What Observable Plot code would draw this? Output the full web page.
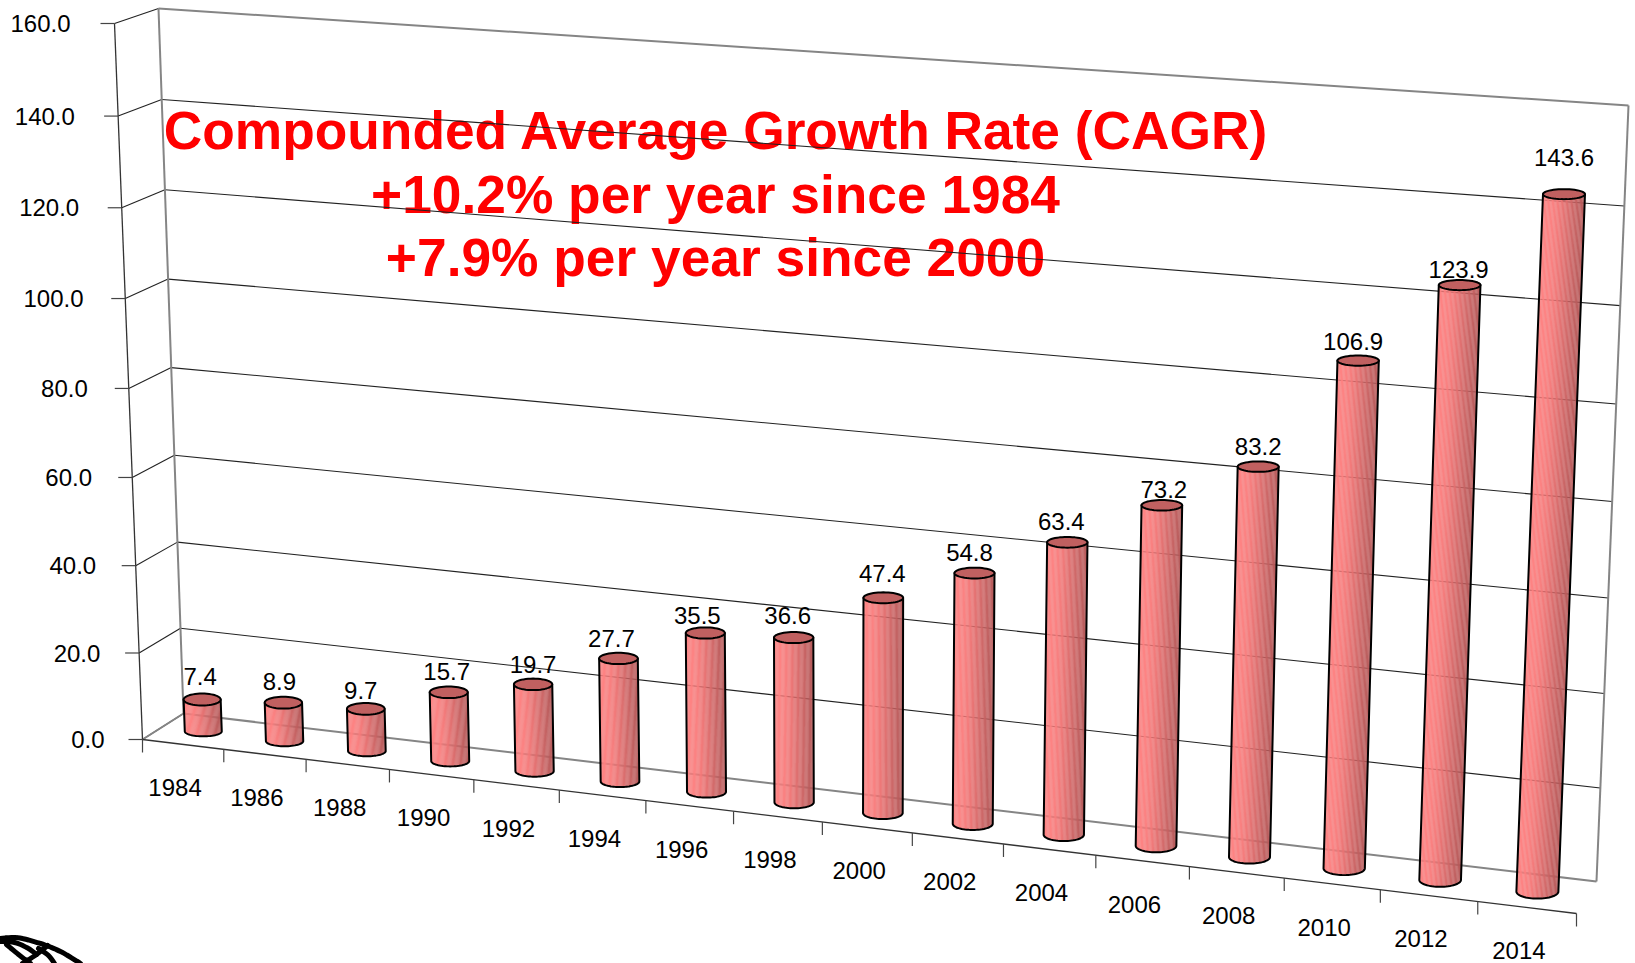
<!DOCTYPE html>
<html>
<head>
<meta charset="utf-8">
<style>html,body{margin:0;padding:0;background:#fff}svg{display:block}</style>
<script src="https://cdn.jsdelivr.net/npm/d3@7"></script>
<script src="https://cdn.jsdelivr.net/npm/@observablehq/plot@0.6"></script>
</head>
<body>
<div id="chart"></div>
<script>
// ---- data ----
const years = [1984,1986,1988,1990,1992,1994,1996,1998,2000,2002,2004,2006,2008,2010,2012,2014];
const values = [7.4,8.9,9.7,15.7,19.7,27.7,35.5,36.6,47.4,54.8,63.4,73.2,83.2,106.9,123.9,143.6];
const valueLabels = ["7.4","8.9","9.7","15.7","19.7","27.7","35.5","36.6","47.4","54.8","63.4","73.2","83.2","106.9","123.9","143.6"];
const yTicks = [0,20,40,60,80,100,120,140,160];
const titleLines = ["Compounded Average Growth Rate (CAGR)","+10.2% per year since 1984","+7.9% per year since 2000"];

// ---- layout: perspective box of the 3-D chart ----
const YMAX = 160, n = years.length;
function homography(tl, tr, br, bl) {
  const [x0,y0]=tl,[x1,y1]=tr,[x2,y2]=br,[x3,y3]=bl;
  const dx1=x1-x2,dx2=x3-x2,dx3=x0-x1+x2-x3,dy1=y1-y2,dy2=y3-y2,dy3=y0-y1+y2-y3;
  const den=dx1*dy2-dx2*dy1;
  const g=(dx3*dy2-dx2*dy3)/den,h=(dx1*dy3-dx3*dy1)/den;
  const a=x1-x0+g*x1,b=x3-x0+h*x3,c=x0,d=y1-y0+g*y1,e=y3-y0+h*y3,f=y0;
  return (u,v)=>{const q=g*u+h*v+1;return [(a*u+b*v+c)/q,(d*u+e*v+f)/q];};
}
const backWall = homography([158,8],[1628,105],[1596,881],[183,713]);
const frontWall = homography([114,23],[1608,123],[1576,913],[142,739]);
// u: 0..1 along the categories, v: value, w: 0 front .. 1 back
function P(u,v,w){
  const f=frontWall(u,1-v/YMAX), b=backWall(u,1-v/YMAX);
  return [f[0]+(b[0]-f[0])*w, f[1]+(b[1]-f[1])*w];
}
const labelDx=[-2,-4,-5,-2,0,-7,-8,-6,-1,-5,-6,2,0,-5,-1,0];
const labelDy=[-22,-20,-18,-20,-19,-19,-17,-21,-23,-20,-20,-15,-19,-18,-15,-36];
const MID=0.5, STRIPS=33;

// ---- tables derived from the data ----
const bars = years.map((year,i)=>{
  const u=(i+0.5)/n, t=i/(n-1);
  return {i,year,value:values[i],label:valueLabels[i],u,
    base:P(u,0,MID),top:P(u,values[i],MID),
    rx:18.5+2.5*t, ryTop:6-1*t, ryBase:5+2*t};
});
const stripeColor=s=>{ // s 0..1 left to right
  const c=d3.interpolateRgbBasis(["#ff8080","#ff8080","#e87070","#c96262","#b05555"])(s);
  return d3.color(c).formatHex();
};
const strips=[],bodies=[];
bars.forEach(b=>{
  const sy=s=>Math.sqrt(Math.max(0,1-(2*s-1)*(2*s-1)));
  const px=(o,s)=>o[0]+(2*s-1)*b.rx;
  for(let k=0;k<STRIPS;k++){
    const a=k/STRIPS,c=(k+1)/STRIPS,id=b.i*1000+k,fill=stripeColor((a+c)/2);
    strips.push(
      {id,fill,X:px(b.top,a),Y:b.top[1]+b.ryTop*sy(a)},
      {id,fill,X:px(b.top,c),Y:b.top[1]+b.ryTop*sy(c)},
      {id,fill,X:px(b.base,c),Y:b.base[1]+b.ryBase*sy(c)},
      {id,fill,X:px(b.base,a),Y:b.base[1]+b.ryBase*sy(a)}
    );
  }
});
const outlines=[],tops=[];
bars.forEach(b=>{
  outlines.push({id:b.i,X:b.top[0]-b.rx,Y:b.top[1]});
  for(let k=0;k<=32;k++){const th=Math.PI-Math.PI*k/32;
    outlines.push({id:b.i,X:b.base[0]+b.rx*Math.cos(th),Y:b.base[1]+b.ryBase*Math.sin(th)});}
  outlines.push({id:b.i,X:b.top[0]+b.rx,Y:b.top[1]});
  bodies.push({id:b.i,X:b.top[0]-b.rx,Y:b.top[1]});
  bodies.push({id:b.i,X:b.top[0]+b.rx,Y:b.top[1]});
  for(let k=0;k<=32;k++){const th=Math.PI*k/32;
    bodies.push({id:b.i,X:b.base[0]+b.rx*Math.cos(th),Y:b.base[1]+b.ryBase*Math.sin(th)});}
  for(let k=0;k<=48;k++){const th=2*Math.PI*k/48;
    tops.push({id:b.i,X:b.top[0]+b.rx*Math.cos(th),Y:b.top[1]+b.ryTop*Math.sin(th)});}
});
const seg=(a,b)=>({x1:a[0],y1:a[1],x2:b[0],y2:b[1]});
// gridlines on the back and left walls
const gridBack=yTicks.filter(v=>v>0&&v<YMAX).map(v=>seg(P(0,v,1),P(1,v,1)));
const gridLeft=yTicks.map(v=>seg(P(0,v,0),P(0,v,1)));
const boxGrey=[seg(P(0,0,1),P(0,YMAX,1)),seg(P(0,YMAX,1),P(1,YMAX,1)),seg(P(1,YMAX,1),P(1,0,1)),seg(P(1,0,1),P(0,0,1)),seg(P(0,0,0),P(0,0,1))];
const frontEdges=[seg(P(0,0,0),P(0,YMAX,0)),seg(P(0,0,0),P(1,0,0))];
const yTickSegs=yTicks.map(v=>{const p=P(0,v,0);return seg([p[0]-14,p[1]],p);});
const xTickSegs=d3.range(n+1).map(i=>{const p=P(i/n,0,0);return seg(p,[p[0],p[1]+13]);});
const logoCurves=[
  [[0,938],[15,937],[40,943],[60,951],[80,963]],
  [[0,941],[14,942],[28,948],[36,954]],
  [[6,944],[18,954],[30,963]],
  [[47,945],[36,954],[22,963]],
  [[38,948],[48,955],[54,963]]
].flatMap((pts,id)=>pts.map(p=>({id,X:p[0],Y:p[1]})));

const font="Liberation Sans";
const chart=Plot.plot({
  width:1635,height:963,margin:0,
  x:{domain:[0,1635],range:[0,1635],axis:null},
  y:{domain:[0,963],range:[0,963],axis:null},
  marks:[
    Plot.text(titleLines,{x:()=>715,y:(d,i)=>[131,195,258][i],text:d=>d,fill:"#ff0000",
      fontFamily:font,fontWeight:"bold",fontSize:53.3,textAnchor:"middle"}),
    Plot.link(gridBack,{x1:"x1",y1:"y1",x2:"x2",y2:"y2",stroke:"#222",strokeWidth:1.1}),
    Plot.link(gridLeft,{x1:"x1",y1:"y1",x2:"x2",y2:"y2",stroke:"#222",strokeWidth:1.1}),
    Plot.link(boxGrey,{x1:"x1",y1:"y1",x2:"x2",y2:"y2",stroke:"#858585",strokeWidth:2}),
    Plot.link(frontEdges,{x1:"x1",y1:"y1",x2:"x2",y2:"y2",stroke:"#333",strokeWidth:1.3}),
    Plot.link(yTickSegs,{x1:"x1",y1:"y1",x2:"x2",y2:"y2",stroke:"#444",strokeWidth:1.2}),
    Plot.link(xTickSegs,{x1:"x1",y1:"y1",x2:"x2",y2:"y2",stroke:"#444",strokeWidth:1.2}),
    Plot.line(bodies,{x:"X",y:"Y",z:"id",fill:"#c86666",stroke:"none",fillOpacity:0.4,curve:"linear-closed"}),
    Plot.line(strips,{x:"X",y:"Y",z:"id",fill:"fill",stroke:"none",fillOpacity:0.95,curve:"linear-closed"}),
    Plot.line(outlines,{x:"X",y:"Y",z:"id",stroke:"#000",strokeWidth:2,curve:"linear"}),
    Plot.line(tops,{x:"X",y:"Y",z:"id",fill:"#c06060",stroke:"#000",strokeWidth:2,curve:"linear"}),
    Plot.text(bars,{x:d=>d.top[0]+labelDx[d.i],y:d=>d.top[1]+labelDy[d.i],text:"label",fill:"#000",
      fontFamily:font,fontSize:24,textAnchor:"middle"}),
    Plot.text(yTicks,{x:d=>P(0,d,0)[0]-44+6*(1-d/YMAX),y:d=>P(0,d,0)[1]+1,text:d=>d.toFixed(1),fill:"#000",
      fontFamily:font,fontSize:24,textAnchor:"end"}),
    Plot.text(years,{x:(d,i)=>P((i+0.5)/n,0,0)[0]-8,y:(d,i)=>P((i+0.5)/n,0,0)[1]+44,text:d=>String(d),fill:"#000",
      fontFamily:font,fontSize:24,textAnchor:"middle"}),
    Plot.line(logoCurves,{x:"X",y:"Y",z:"id",stroke:"#000",strokeWidth:5,strokeDasharray:"5 0.8",curve:"catmull-rom"})
  ]
});
document.getElementById("chart").appendChild(chart);
</script>
</body>
</html>
